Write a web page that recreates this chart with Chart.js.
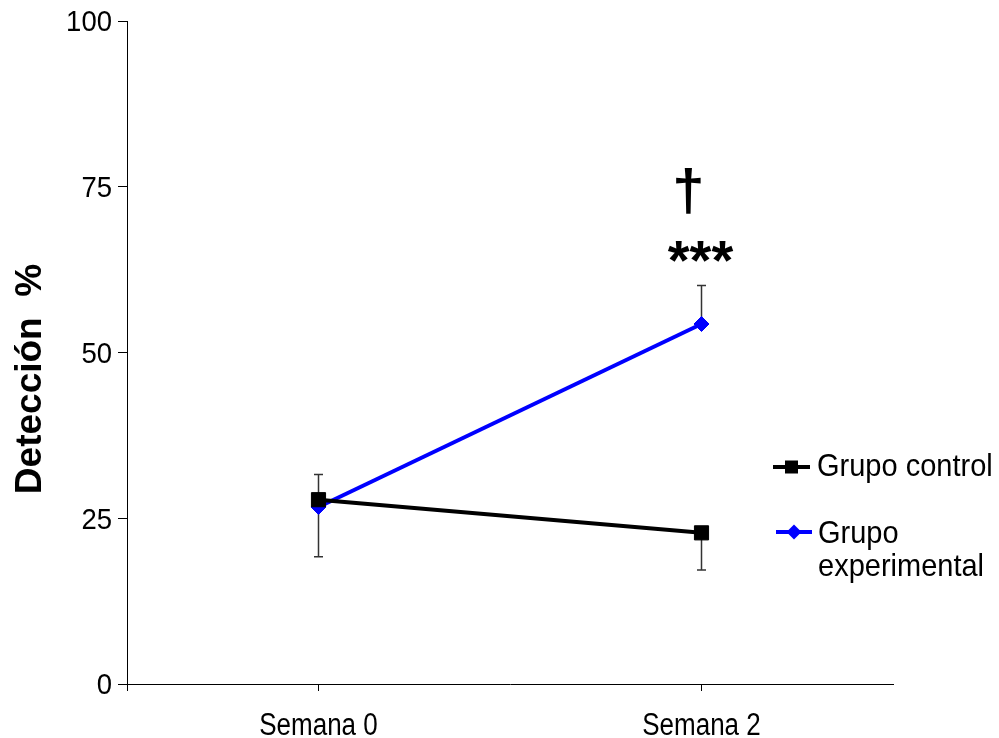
<!DOCTYPE html>
<html>
<head>
<meta charset="utf-8">
<script src="https://cdn.jsdelivr.net/npm/chart.js@4/dist/chart.umd.min.js"></script>
<style>
  html, body { margin: 0; padding: 0; background: #fff; }
  #wrap { width: 999px; height: 738px; position: relative; }
</style>
</head>
<body>
<div id="wrap"><canvas id="c"></canvas></div>
<script>
// Categories and series
const weeks = ['Semana 0', 'Semana 2'];
const controlValues = [27.8, 22.8];
const experimentalValues = [26.7, 54.3];
// Error bar ends (null = not drawn)
const controlUpper = [31.6, null];
const controlLower = [null, 17.2];
const experimentalUpper = [null, 60.1];
const experimentalLower = [19.2, null];
// Axis ticks
const yTicks = [0, 25, 50, 75, 100];
// Text
const seriesNames = ['Grupo control', 'Grupo experimental'];
const legendLines = [['Grupo control'], ['Grupo', 'experimental']];
const yTitle = 'Detección  %';
const dagger = '†';
const stars = '***';
// Significance marks: category index and value level of each mark
const daggerAt = { index: 1, value: 74 };
const starsAt = { index: 1, value: 64.7 };

const FONT = "'Liberation Sans', Arial, sans-serif";
const CAP = 0.716; // cap height of the sans face, in em

// Text drawn slightly taller than wide, vertically centred on its cap height
function tallText(ctx, text, x, y, size, sy, align, weight) {
  ctx.save();
  ctx.translate(x, y + CAP * size * sy / 2);
  ctx.scale(1, sy);
  ctx.font = `${weight || ''} ${size}px ${FONT}`;
  ctx.textAlign = align;
  ctx.textBaseline = 'alphabetic';
  ctx.fillStyle = '#000';
  ctx.fillText(text, 0, 0);
  ctx.restore();
}

const errorBars = {
  id: 'errorBars',
  beforeDatasetsDraw(chart) {
    const { ctx } = chart;
    const x = chart.scales.x, y = chart.scales.y;
    const sets = [
      [controlValues, controlUpper, controlLower],
      [experimentalValues, experimentalUpper, experimentalLower]
    ];
    ctx.save();
    ctx.strokeStyle = '#333';
    ctx.lineWidth = 1.5;
    sets.forEach(([vals, up, lo]) => {
      vals.forEach((v, j) => {
        const px = x.getPixelForValue(j);
        const py = y.getPixelForValue(v);
        [up[j], lo[j]].forEach(end => {
          if (end == null) return;
          const pe = y.getPixelForValue(end);
          ctx.beginPath();
          ctx.moveTo(px, py);
          ctx.lineTo(px, pe);
          ctx.moveTo(px - 4.5, pe);
          ctx.lineTo(px + 4.5, pe);
          ctx.stroke();
        });
      });
    });
    ctx.restore();
  }
};

const decorations = {
  id: 'decorations',
  afterDraw(chart) {
    const { ctx, chartArea } = chart;
    const x = chart.scales.x, y = chart.scales.y;
    ctx.save();
    // y axis continues just below the x axis
    ctx.strokeStyle = '#000';
    ctx.lineWidth = 1;
    ctx.beginPath();
    ctx.moveTo(chartArea.left + 0.5, chartArea.bottom);
    ctx.lineTo(chartArea.left + 0.5, chartArea.bottom + 7);
    ctx.stroke();

    // tick labels, placed through the scales
    y.ticks.forEach(t => {
      tallText(ctx, String(t.value), chartArea.left - 15, y.getPixelForValue(t.value), 27.5, 1.05, 'right');
    });
    x.ticks.forEach((t, i) => {
      tallText(ctx, weeks[i], x.getPixelForValue(i), chartArea.bottom + 40, 26, 1.2, 'center');
    });

    // y axis title
    ctx.fillStyle = '#000';
    ctx.font = `bold 37px ${FONT}`;
    ctx.textAlign = 'center';
    ctx.textBaseline = 'middle';
    ctx.translate(31, 379);
    ctx.rotate(-Math.PI / 2);
    ctx.fillText(yTitle, 0, 0);
    ctx.setTransform(1, 0, 0, 1, 0, 0);

    // significance marks
    ctx.font = `bold 58px ${FONT}`;
    ctx.textAlign = 'center';
    ctx.textBaseline = 'middle';
    ctx.fillText(dagger, x.getPixelForValue(daggerAt.index) - 13, y.getPixelForValue(daggerAt.value) + 1);
    ctx.font = `bold 56px ${FONT}`;
    ctx.fillText(stars, x.getPixelForValue(starsAt.index) - 1, y.getPixelForValue(starsAt.value) + 9);

    // legend
    const ds = chart.data.datasets;
    const rows = [
      { lineY: 467, x0: 773, x1: 810, textX: 817, textY: [465] },
      { lineY: 532, x0: 776, x1: 812, textX: 818, textY: [532, 565] }
    ];
    rows.forEach((r, i) => {
      const d = ds[i];
      ctx.strokeStyle = d.borderColor;
      ctx.lineWidth = 4;
      ctx.beginPath();
      ctx.moveTo(r.x0, r.lineY);
      ctx.lineTo(r.x1, r.lineY);
      ctx.stroke();
      ctx.fillStyle = d.backgroundColor;
      const cx = (r.x0 + r.x1) / 2;
      if (d.pointStyle === 'rect') {
        ctx.fillRect(cx - 6.5, r.lineY - 6.5, 13, 13);
      } else {
        ctx.beginPath();
        ctx.moveTo(cx, r.lineY - 7.5);
        ctx.lineTo(cx + 7.5, r.lineY);
        ctx.lineTo(cx, r.lineY + 7.5);
        ctx.lineTo(cx - 7.5, r.lineY);
        ctx.closePath();
        ctx.fill();
      }
      legendLines[i].forEach((t, k) => tallText(ctx, t, r.textX, r.textY[k], 29, 1.05, 'left'));
    });
    ctx.restore();
  }
};

new Chart(document.getElementById('c'), {
  type: 'line',
  data: {
    labels: weeks,
    datasets: [
      {
        label: seriesNames[0],
        data: controlValues,
        borderColor: '#000',
        backgroundColor: '#000',
        borderWidth: 4,
        pointStyle: 'rect',
        pointRadius: 10,
        pointBorderWidth: 1,
        pointHoverRadius: 10
      },
      {
        label: seriesNames[1],
        data: experimentalValues,
        borderColor: '#0000ff',
        backgroundColor: '#0000ff',
        borderWidth: 4,
        pointStyle: 'rectRot',
        pointRadius: 7.5,
        pointBorderWidth: 1,
        pointHoverRadius: 7.5
      }
    ]
  },
  options: {
    responsive: true,
    maintainAspectRatio: false,
    animation: false,
    events: [],
    layout: { padding: { left: 0, right: 106, top: 21, bottom: 0 } },
    plugins: { legend: { display: false }, tooltip: { enabled: false } },
    scales: {
      x: {
        type: 'category',
        offset: true,
        grid: { display: true, drawOnChartArea: false, offset: false, color: '#000', tickLength: 7, tickWidth: 1 },
        border: { display: true, color: '#000', width: 1 },
        ticks: { display: false },
        afterFit(s) { s.height = 54; }
      },
      y: {
        min: 0,
        max: 100,
        afterBuildTicks(s) { s.ticks = yTicks.map(v => ({ value: v })); },
        grid: { display: true, drawOnChartArea: false, color: '#000', tickLength: 9, tickWidth: 1 },
        border: { display: true, color: '#000', width: 1 },
        ticks: { display: false },
        afterFit(s) { s.width = 127; }
      }
    }
  },
  plugins: [errorBars, decorations]
});
</script>
</body>
</html>
